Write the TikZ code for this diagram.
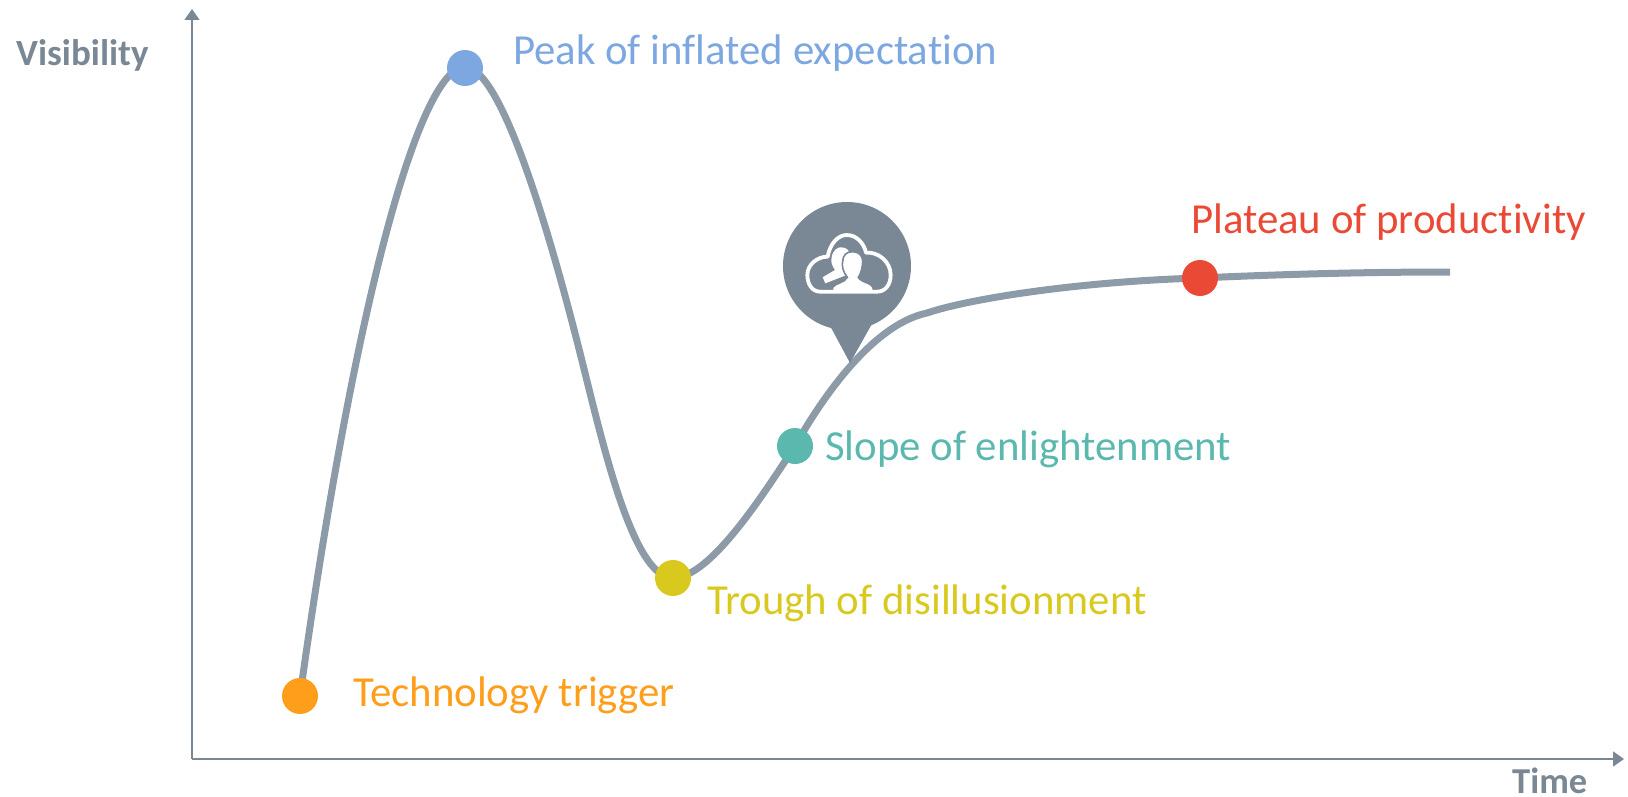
\documentclass[tikz,border=0pt]{standalone}
\usepackage{fontspec}
\setmainfont[Ligatures={NoCommon}]{Carlito}
\usetikzlibrary{arrows.meta}
\definecolor{slate}{HTML}{7A8895}
\definecolor{curvec}{HTML}{8D9BA8}
\definecolor{cOrange}{HTML}{FF9E1B}
\definecolor{cBlue}{HTML}{7DA7E0}
\definecolor{cYellow}{HTML}{D9C91E}
\definecolor{cTeal}{HTML}{5AB8AF}
\definecolor{cRed}{HTML}{EA4A35}
\tikzset{
  phase/.style={circle,minimum size=36pt,inner sep=0pt,fill=#1},
  phaselabel/.style={anchor=base west,inner sep=0pt,font=\fontsize{42.8}{42.8}\selectfont,text=#1},
  axislabel/.style={anchor=base west,inner sep=0pt,font=\fontsize{37}{37}\selectfont\bfseries,text=slate},
  axisline/.style={draw=slate,line width=1.8pt,-{Triangle[length=11pt,width=15pt]}},
  hype/.style={draw=curvec,line width=7pt,line cap=butt},
  icon/.style={draw=white,line width=3.8pt,line join=round}
}
\begin{document}
\begin{tikzpicture}[x=1pt,y=-1pt]
\useasboundingbox (0,0) rectangle (1628,797);
\coordinate (origin) at (192,759);
\coordinate (ytip) at (192,9);
\coordinate (xtip) at (1624,759);
\draw[axisline] (origin) -- (ytip);
\draw[axisline] (origin) -- (xtip);
\node[axislabel] (vis) at (16,66) {Visibility};
\node[axislabel,font=\fontsize{36.5}{36.5}\selectfont\bfseries] (time) at (1512,793) {Time};
% curve
\draw[hype] (300,696) .. controls (355,300) and (420,67) .. (465,67)
  .. controls (500,67) and (548,222) .. (586,377)
  .. controls (606,457) and (635,578) .. (673,578)
  .. controls (710,578) and (763,495) .. (795,446)
  .. controls (818,405) and (870,325) .. (927,313)
  .. controls (965,300) and (1070,282) .. (1199,278)
  .. controls (1288,274) and (1370,272) .. (1450,272);
% pin
\fill[slate] (847,266) circle[radius=64];
\fill[slate] (828,322) -- (850,363) -- (873,322) -- cycle;
\begin{scope}[shift={(790,200)},x=0.3333pt,y=-0.3333pt]
  \fill[white] (98,232) -- (135,210) .. controls (125,195) and (122,185) .. (125,172)
    .. controls (128,150) and (145,140) .. (155,142)
    .. controls (170,143) and (178,152) .. (178,160) -- (170,225) -- (106,250) -- cycle;
  \filldraw[fill=white,draw=slate,line width=1.6pt]
    (128,282) -- (128,262) .. controls (135,250) and (165,248) .. (172,232)
    .. controls (158,215) and (155,195) .. (158,185)
    .. controls (158,165) and (170,155) .. (188,155)
    .. controls (207,155) and (219,168) .. (218,185)
    .. controls (218,200) and (213,220) .. (205,232)
    .. controls (212,248) and (250,248) .. (250,268) -- (250,282) -- cycle;
  \draw[icon] (90,275) .. controls (65,275) and (52,250) .. (52,225)
    .. controls (52,195) and (80,170) .. (113,170)
    .. controls (120,130) and (145,105) .. (170,105)
    .. controls (200,105) and (222,130) .. (228,158)
    .. controls (265,155) and (302,185) .. (302,225)
    .. controls (302,255) and (285,275) .. (262,275) -- cycle;
\end{scope}
% dots
\node[phase=cOrange] (n1) at (300,696) {};
\node[phase=cBlue] (n2) at (465,68) {};
\node[phase=cYellow] (n3) at (673,578) {};
\node[phase=cTeal] (n4) at (795,446) {};
\node[phase=cRed] (n5) at (1200,278) {};
\node[phaselabel=cOrange] (t1) at (353,706) {Technology trigger};
\node[phaselabel=cBlue] (t2) at (513,64.5) {Peak of inflated expectation};
\node[phaselabel=cYellow] (t3) at (707,614) {Trough of disillusionment};
\node[phaselabel=cTeal] (t4) at (825,460) {Slope of enlightenment};
\node[phaselabel=cRed] (t5) at (1191,233) {Plateau of productivity};
\end{tikzpicture}
\end{document}
